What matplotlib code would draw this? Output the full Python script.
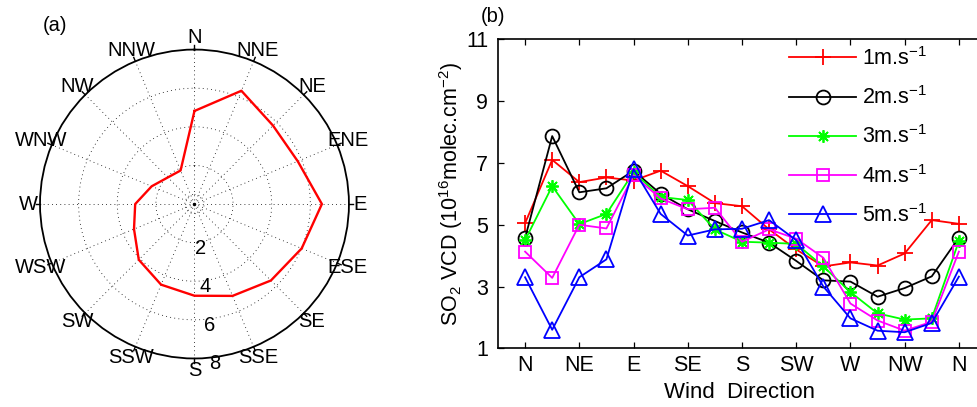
import numpy as np
import matplotlib.pyplot as plt

plt.rcParams['font.family'] = ['Liberation Sans', 'DejaVu Sans']
plt.rcParams['mathtext.fontset'] = 'custom'
plt.rcParams['mathtext.rm'] = 'Liberation Sans'
plt.rcParams['mathtext.it'] = 'Liberation Sans:italic'

# --- data -----------------------------------------------------------
dirs16 = ['N', 'NNE', 'NE', 'ENE', 'E', 'ESE', 'SE', 'SSE',
          'S', 'SSW', 'SW', 'WSW', 'W', 'WNW', 'NW', 'NNW']
rose_vcd = [4.82, 6.35, 5.75, 5.79, 6.6, 6.01, 5.6, 5.15,
            4.75, 4.52, 4.08, 3.39, 3.07, 2.4, 1.95, 1.88]
ring_vals = [2, 4, 6, 8]

xtick_labels = ['N', 'NE', 'E', 'SE', 'S', 'SW', 'W', 'NW', 'N']
speed_labels = ['1m.s$^{-1}$', '2m.s$^{-1}$', '3m.s$^{-1}$',
                '4m.s$^{-1}$', '5m.s$^{-1}$']
vcd_1ms = [5.05, 7.1, 6.38, 6.53, 6.43, 6.75, 6.25, 5.7, 5.6,
           4.85, 4.2, 3.65, 3.78, 3.68, 4.07, 5.15, 5.03]
vcd_2ms = [4.57, 7.87, 6.05, 6.18, 6.75, 6.0, 5.5, 5.12, 4.75,
           4.42, 3.83, 3.2, 3.16, 2.67, 2.95, 3.33, 4.58]
vcd_3ms = [4.5, 6.25, 5.02, 5.35, 6.7, 5.9, 5.8, 4.85, 4.45,
           4.42, 4.38, 3.65, 2.82, 2.13, 1.93, 1.97, 4.47]
vcd_4ms = [4.13, 3.28, 5.0, 4.88, 6.6, 5.85, 5.5, 5.55, 4.45,
           4.85, 4.55, 3.93, 2.45, 1.9, 1.57, 1.86, 4.13]
vcd_5ms = [3.3, 1.6, 3.3, 3.88, 6.8, 5.35, 4.65, 4.85, 4.87,
           5.15, 4.5, 3.0, 1.97, 1.57, 1.52, 1.82, 3.32]

fs_a = 14.5
fs_b = 15.5

fig = plt.figure(figsize=(9.77, 4.07), dpi=100)

# --- (a) polar rose -------------------------------------------------
axp = fig.add_axes([0.0409, 0.1192, 0.3163, 0.759], projection='polar')
axp.set_theta_zero_location('N')
axp.set_theta_direction(-1)
axp.set_ylim(0, 8)
axp.grid(False)
axp.set_xticks([])
axp.set_yticks([])
axp.spines['polar'].set_linewidth(1.3)

theta = np.deg2rad(np.arange(16) * 22.5)
full = np.linspace(0, 2 * np.pi, 300)
dots = (0, (1, 4))
for r in [0.5, 2, 4, 6]:
    axp.plot(full, np.full_like(full, r), color='k', lw=0.6, ls=dots)
for th in theta:
    axp.plot([th, th], [0, 8], color='k', lw=0.6, ls=dots)
    axp.plot([th, th], [8, 8.22], color='k', lw=1.0, clip_on=False)
axp.plot([0], [0], 'k.', ms=3)

for th, name in zip(theta, dirs16):
    axp.text(th, 8.6, name, ha='center', va='center', fontsize=fs_a,
             clip_on=False)
for r in ring_vals:
    axp.text(np.deg2rad(172.8), r + 0.32, str(r), ha='center', va='center',
             fontsize=fs_a, clip_on=False)

th_closed = np.append(theta, theta[0])
r_closed = np.append(rose_vcd, rose_vcd[0])
axp.plot(th_closed, r_closed, color='red', lw=1.7)

fig.text(0.056, 0.938, '(a)', ha='center', va='center', fontsize=fs_a)

# --- (b) VCD vs wind direction --------------------------------------
ax = fig.add_axes([0.5097, 0.1442, 0.4995, 0.759])
x = np.arange(17)
styles = [
    (vcd_1ms, 'red', '+', 11),
    (vcd_2ms, 'black', 'o', 10),
    (vcd_3ms, '#00ff00', (8, 2, 0), 9),
    (vcd_4ms, 'magenta', 's', 8),
    (vcd_5ms, 'blue', '^', 11),
]
for (vals, col, mk, ms), lab in zip(styles, speed_labels):
    ax.plot(x, vals, color=col, marker=mk, ms=ms, mfc='none', mew=1.3,
            lw=1.3, label=lab)

ax.set_xlim(-1, 17)
ax.set_ylim(1, 11)
ax.set_xticks(np.arange(0, 17, 2))
ax.set_xticklabels(xtick_labels)
ax.set_yticks([1, 3, 5, 7, 9, 11])
ax.tick_params(direction='in', length=4, width=0.9, top=True, right=True,
               labelsize=fs_b)
ax.tick_params(axis='x', pad=5)
ax.tick_params(axis='y', pad=7)
for s in ax.spines.values():
    s.set_linewidth(1.2)
ax.set_ylabel('SO$_2$ VCD (10$^{16}$molec.cm$^{-2}$)', fontsize=fs_b)
ax.yaxis.set_label_coords(-0.068, 0.5)
fig.text(0.757, 0.035, 'Wind  Direction', ha='center', va='center',
         fontsize=16)
leg = ax.legend(loc='upper left', bbox_to_anchor=(0.788, 0.932),
                bbox_transform=fig.transFigure, frameon=False,
                fontsize=fs_b, handlelength=3.1, labelspacing=0.76,
                handletextpad=0.3)
fig.text(0.505, 0.96, '(b)', ha='center', va='center', fontsize=fs_a)

fig.savefig('out.png', dpi=100)
